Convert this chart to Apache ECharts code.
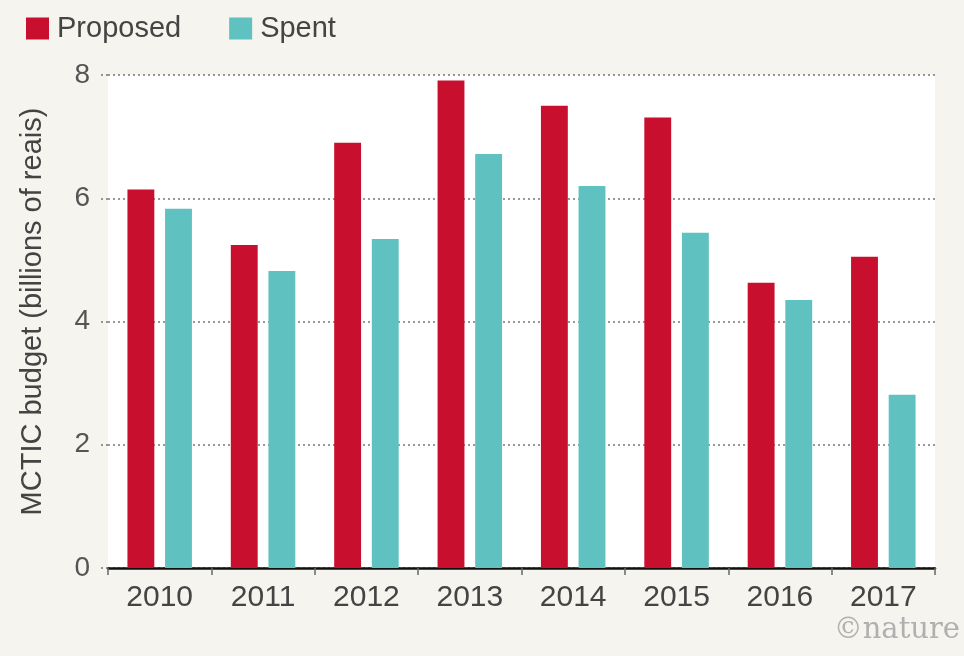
<!DOCTYPE html>
<html>
<head>
<meta charset="utf-8">
<script src="https://cdn.jsdelivr.net/npm/echarts@6/dist/echarts.min.js"></script>
<style>
html,body{margin:0;padding:0;background:#f5f4ee;}
#c{width:964px;height:656px;}
</style>
</head>
<body>
<div id="c"></div>
<script>
const years = ['2010','2011','2012','2013','2014','2015','2016','2017'];
const proposed = [6.14, 5.24, 6.90, 7.91, 7.50, 7.31, 4.63, 5.05];
const spent = [5.83, 4.82, 5.34, 6.72, 6.20, 5.44, 4.35, 2.81];
const yTicks = [0, 2, 4, 6, 8];

const chart = echarts.init(document.getElementById('c'));
const font = 'Liberation Sans';
chart.setOption({
  backgroundColor: '#f5f4ee',
  animation: false,
  textStyle: {fontFamily: font},
  legend: {
    left: 21, top: 9,
    itemWidth: 23, itemHeight: 22, itemGap: 48,
    icon: 'rect',
    textStyle: {fontSize: 29, color: '#444', fontFamily: font, padding: [0, 0, 0, 3]},
    data: ['Proposed', 'Spent']
  },
  grid: {
    left: 108, right: 29, top: 75, bottom: 88,
    show: true, backgroundColor: '#ffffff', borderWidth: 0
  },
  xAxis: {
    type: 'category',
    data: years,
    axisLine: {lineStyle: {color: '#111', width: 2.5}},
    axisTick: {show: true, alignWithLabel: false, length: 7, lineStyle: {color: '#666', width: 1.5}},
    axisLabel: {fontSize: 30, color: '#444', margin: 15, fontFamily: font}
  },
  yAxis: {
    type: 'value',
    min: 0, max: 8, interval: 2,
    name: 'MCTIC budget (billions of reais)',
    nameLocation: 'middle',
    nameGap: 61,
    nameTextStyle: {fontSize: 29, color: '#444', fontFamily: font, padding: [0, 0, 0, 20]},
    axisLine: {show: false},
    axisTick: {show: true, length: 10, lineStyle: {color: '#777', type: [2, 3], width: 1.5}},
    axisLabel: {
      fontSize: 28, color: '#555', margin: 18, fontFamily: font,
      formatter: v => yTicks.includes(v) ? String(v) : ''
    },
    splitLine: {lineStyle: {color: '#777', type: [2, 3], width: 1.5}}
  },
  series: [
    {name: 'Proposed', type: 'bar', data: proposed, barWidth: '26%', barGap: '40%',
     itemStyle: {color: '#c8102e'}},
    {name: 'Spent', type: 'bar', data: spent, barWidth: '26%',
     itemStyle: {color: '#5fc1c0'}}
  ],
  graphic: [{
    type: 'text', right: 4, bottom: 11,
    style: {text: '©nature', font: '29px "DejaVu Serif"', fill: '#b0b0b0'}
  }]
});
</script>
</body>
</html>
